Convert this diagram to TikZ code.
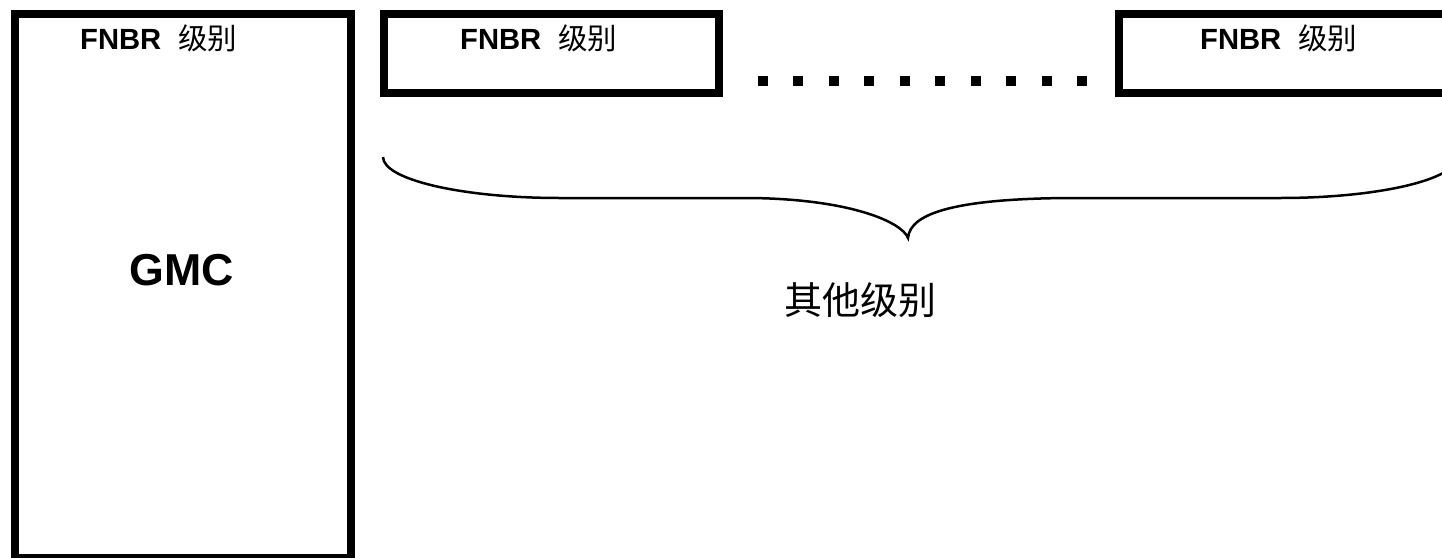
\documentclass[tikz,border=0pt]{standalone}
\usepackage{fontspec}
\setmainfont{Liberation Sans}
\newfontfamily\cjk{Noto Sans CJK SC}
\newcommand\fnbrlabel{{\bfseries FNBR}\hspace{17pt}{\cjk\fontsize{29.5}{33}\selectfont 级别}}
\begin{document}
\begin{tikzpicture}[x=1pt,y=-1pt,
  box/.style={draw,line width=8pt,inner sep=0pt},
  lbl/.style={anchor=base west,inner sep=0pt,font=\fontsize{29.2}{33}\selectfont},
  dotsq/.style={fill=black},
  bracepath/.style={line width=2.5pt}]
\useasboundingbox (0,0) rectangle (1442,557);
\clip (0,0) rectangle (1442,557);
\node[box,minimum width=336pt,minimum height=543.7pt] (gmcbox) at (183,285.85) {};
\node[box,minimum width=335.5pt,minimum height=79pt] (boxa) at (551.25,53.5) {};
\node[box,minimum width=341pt,minimum height=79pt] (boxb) at (1289.5,53.5) {};
\node[lbl] (t1) at (80,49) {\fnbrlabel};
\node[lbl] (t2) at (460,49) {\fnbrlabel};
\node[lbl] (t3) at (1200,49) {\fnbrlabel};
\node[anchor=base,inner sep=0pt,font=\fontsize{44.7}{50}\selectfont\bfseries] (gmc) at (182,285) {GMC};
\foreach \i in {0,...,9} {
  \fill[dotsq] (758+35.44*\i,76) rectangle +(10,10);
}
\draw[bracepath] (383,157) .. controls (383,179.6) and (462,198) .. (560,198) -- (750,198)
  .. controls (850,199) and (902,222) .. (908,238)
  .. controls (910,212) and (960,199) .. (1066,198) -- (1280,198)
  .. controls (1378,198) and (1457,179.6) .. (1457,157);
\node[anchor=base,inner sep=0pt,font=\cjk\fontsize{38}{44}\selectfont] (other) at (860,314) {其他级别};
\end{tikzpicture}
\end{document}
